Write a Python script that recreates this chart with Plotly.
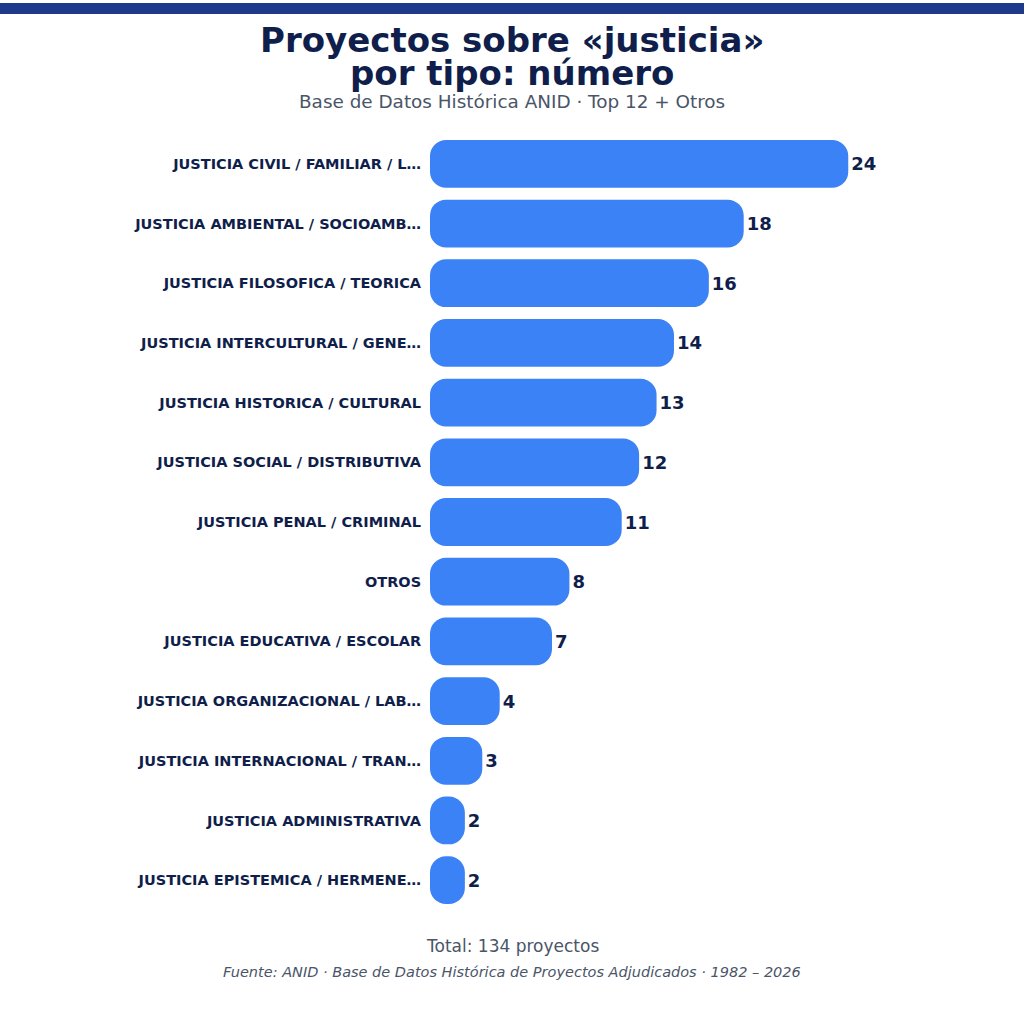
import plotly.graph_objects as go

# Data (top to bottom as shown)
categories = [
    'JUSTICIA CIVIL / FAMILIAR / L…',
    'JUSTICIA AMBIENTAL / SOCIOAMB…',
    'JUSTICIA FILOSOFICA / TEORICA',
    'JUSTICIA INTERCULTURAL / GENE…',
    'JUSTICIA HISTORICA / CULTURAL',
    'JUSTICIA SOCIAL / DISTRIBUTIVA',
    'JUSTICIA PENAL / CRIMINAL',
    'OTROS',
    'JUSTICIA EDUCATIVA / ESCOLAR',
    'JUSTICIA ORGANIZACIONAL / LAB…',
    'JUSTICIA INTERNACIONAL / TRAN…',
    'JUSTICIA ADMINISTRATIVA',
    'JUSTICIA EPISTEMICA / HERMENE…',
]
counts = [24, 18, 16, 14, 13, 12, 11, 8, 7, 4, 3, 2, 2]

navy = '#0f1e4a'
slate = '#4a5568'
bar_color = '#3b82f6'

fig = go.Figure()

fig.add_trace(go.Bar(
    x=counts,
    y=categories,
    base=0,
    orientation='h',
    marker=dict(color=bar_color, cornerradius=16, line=dict(width=0)),
    text=[str(v) for v in counts],
    textposition='outside',
    textfont=dict(size=18, color=navy, family='DejaVu Sans', weight='bold'),
    cliponaxis=False,
    hoverinfo='skip',
))

fig.update_layout(
    width=1024,
    height=1024,
    plot_bgcolor='white',
    paper_bgcolor='white',
    showlegend=False,
    bargap=0.2,
    margin=dict(l=430, r=113, t=134, b=114),
    font=dict(family='DejaVu Sans', color=navy),
)

fig.update_xaxes(range=[0, 27.6], visible=False)
fig.update_yaxes(
    autorange='reversed',
    automargin=False,
    showgrid=False,
    zeroline=False,
    showline=False,
    ticks='outside',
    ticklen=5,
    tickcolor='rgba(0,0,0,0)',
    tickfont=dict(size=14.5, color=navy, family='DejaVu Sans', weight='bold'),
)

# helpers to place things by pixel position on the page
def px_x(x):
    return (x - 430) / 481

def px_y(y):
    return (910 - y) / 776

# top accent bar
fig.add_shape(type='rect', xref='paper', yref='paper',
              x0=px_x(-5), x1=px_x(1030), y0=px_y(14), y1=px_y(3),
              fillcolor='#1e3a8a', line=dict(width=0), layer='above')

# titles and notes
notes = [
    ('<b>Proyectos sobre «justicia»</b>', 40, 34, navy),
    ('<b>por tipo: número</b>', 73, 34, navy),
    ('Base de Datos Histórica ANID · Top 12 + Otros', 102, 18.4, slate),
    ('Total: ' + str(sum(counts)) + ' proyectos', 946, 17, slate),
    ('<i>Fuente: ANID · Base de Datos Histórica de Proyectos Adjudicados · 1982 – 2026</i>', 972, 14.5, slate),
]
for txt, y, size, col in notes:
    fig.add_annotation(text=txt, xref='paper', yref='paper', x=px_x(512), y=px_y(y),
                       xanchor='center', yanchor='middle', showarrow=False,
                       font=dict(size=size, color=col))

fig.write_html('out.html', config={'displayModeBar': False},
               post_script="document.body.style.margin='0';")
